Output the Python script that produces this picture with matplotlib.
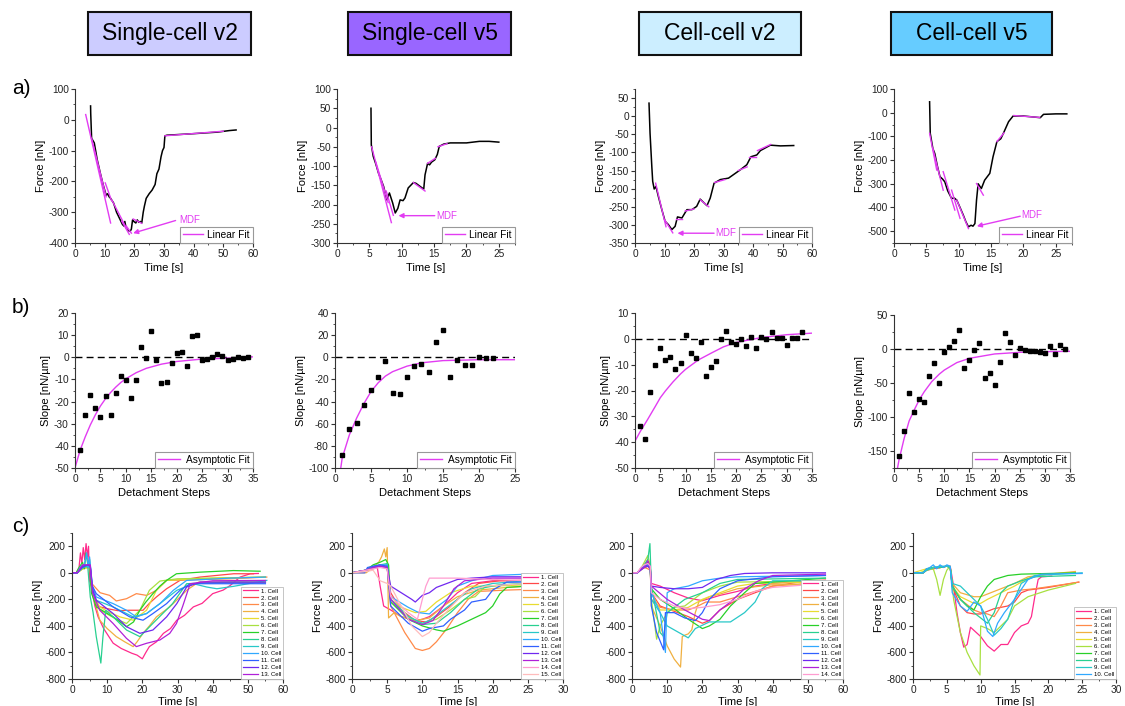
import matplotlib
matplotlib.use("Agg")
import matplotlib.pyplot as plt
from matplotlib.patches import Rectangle
from matplotlib.ticker import MultipleLocator, AutoMinorLocator

plt.rcParams['font.family'] = ['Liberation Sans', 'DejaVu Sans']
plt.rcParams['axes.unicode_minus'] = False

W, H = 1125, 706
MAG = '#e23cf2'

# ---------------- headers ----------------
titles = ['Single-cell v2', 'Single-cell v5', 'Cell-cell v2', 'Cell-cell v5']
title_colors = ['#ccccff', '#9966ff', '#cceeff', '#66ccff']

# ---------------- row a: force curves with linear fits ----------------
a1_time = [5.25, 5.3, 5.6, 6.5, 7.5, 8.5, 9.5, 10.5, 11.0, 11.5, 12.0, 13.0, 14.0, 15.0, 16.0, 16.5, 16.8, 17.2, 18.0, 18.6,
           19.0, 19.4, 19.8, 20.5, 21.0, 21.5, 22.0, 22.5, 23.0, 23.4, 24.0, 25.0, 26.0, 27.0, 27.6, 28.3, 29.0, 29.5, 30.0, 30.3,
           31.0, 40.0, 48.0, 52.0, 54.3]
a1_force = [45, 20, -60, -75, -130, -172, -211, -245, -240, -250, -255, -270, -300, -320, -340, -345, -330, -350, -360, -362,
            -355, -325, -330, -335, -325, -333, -330, -335, -300, -280, -255, -240, -228, -210, -175, -160, -120, -100, -90, -52,
            -50, -45, -40, -35, -33]
a1_fits = [(3.6, 17, 12.0, -335), (5.6, -60, 10.5, -250), (10.2, -205, 12.3, -262), (12.5, -262, 17.5, -355),
           (15.8, -330, 18.3, -372), (17.3, -345, 19.0, -368), (19.6, -322, 22.5, -336), (30.3, -52, 50.0, -37)]

a2_time = [5.25, 5.3, 5.6, 6.0, 6.4, 6.8, 7.2, 7.7, 8.1, 8.6, 9.0, 9.4, 9.75, 10.2, 10.5, 11.0, 11.4, 11.8, 12.2, 12.6,
           13.0, 13.4, 13.6, 14.0, 14.3, 14.6, 15.1, 15.5, 15.8, 16.5, 17.5, 20.0, 22.0, 23.5, 25.0]
a2_force = [50, -45, -75, -95, -118, -135, -153, -188, -170, -196, -222, -210, -188, -190, -183, -157, -150, -143, -145, -150,
            -155, -160, -123, -93, -97, -90, -84, -70, -49, -43, -40, -40, -36, -36, -38]
a2_fits = [(5.35, -50, 8.4, -247), (6.0, -90, 7.9, -195), (7.6, -165, 8.7, -228), (11.8, -143, 13.6, -165),
           (14.0, -93, 15.2, -80), (15.6, -50, 17.0, -42)]

a3_time = [4.75, 5.1, 5.7, 6.0, 6.5, 7.1, 7.9, 9.1, 10.2, 11.3, 12.5, 13.6, 14.4, 15.9, 17.6, 19.3, 20.9, 22.1, 24.4, 25.5,
           26.8, 28.9, 31.7, 35.7, 37.9, 39.3, 41.3, 42.5, 45.9, 49.3, 53.8]
a3_force = [36, -47, -139, -180, -201, -194, -221, -258, -290, -299, -313, -304, -278, -281, -258, -258, -249, -229, -247, -226,
            -185, -175, -171, -148, -134, -112, -107, -95, -80, -82, -81]
a3_fits = [(7.0, -185, 10.5, -305), (10.0, -285, 12.8, -322), (14.0, -285, 16.0, -285), (17.0, -262, 20.0, -256),
           (22.0, -230, 25.0, -250), (27.0, -183, 30.5, -175), (35.0, -150, 38.0, -140), (38.5, -112, 41.0, -112),
           (41.5, -95, 46.0, -78)]

a4_time = [5.5, 5.6, 6.0, 6.3, 6.7, 7.1, 7.5, 7.85, 8.3, 8.9, 9.3, 9.7, 10.2, 10.7, 11.1, 11.5, 11.9, 12.2, 12.5, 12.75,
           13.0, 13.5, 14.0, 14.8, 15.3, 15.9, 16.5, 16.9, 17.7, 18.4, 20.0, 22.6, 23.1, 25.0, 26.7]
a4_force = [46, -87, -151, -172, -225, -270, -280, -292, -330, -362, -360, -369, -400, -432, -460, -482, -475, -479, -468, -369,
            -300, -320, -285, -256, -186, -122, -110, -87, -38, -14, -14, -21, -7, -5, -5]
a4_fits = [(5.5, -87, 6.6, -242), (6.0, -151, 7.6, -327), (7.6, -249, 9.4, -411), (8.9, -327, 10.2, -446),
           (9.7, -369, 11.5, -489), (12.75, -299, 13.8, -348), (15.9, -122, 17.0, -85), (18.5, -12, 22.5, -20)]

# MDF label: text position, arrow tail, arrow head
a_mdf = [((35.0, -325), (33.9, -327), (19.6, -368)),
         ((15.4, -229), (15.1, -229), (9.5, -229)),
         ((27.2, -323), (26.8, -323), (14.4, -323)),
         ((19.7, -432), (19.5, -437), (12.8, -479))]

# ---------------- row b: slopes per detachment step ----------------
b1_step = list(range(1, 35))
b1_slope = [-42, -25.9, -17, -23, -27, -17.6, -25.9, -16, -8.3, -10.4, -18.4, -10.1, 4.5, -0.3, 12, -1, -11.6, -11.3,
            -2.6, 1.9, 2.5, -3.8, 9.8, 10.1, -1, -0.6, 0.1, 1.5, 0.4, -1.4, -0.6, 0, -0.3, 0]
b1_fit_x = [0, 1, 2, 3, 4, 5, 6, 7, 8, 9, 10, 12, 14, 17, 20, 25, 30, 35]
b1_fit_y = [-50, -42, -36, -30.6, -26, -22, -18.7, -15.9, -13.5, -11.4, -9.7, -7, -5, -3.1, -1.9, -0.8, -0.4, 0.2]

b2_step = list(range(1, 23))
b2_slope = [-88, -64.8, -59.4, -43.4, -29.3, -18, -3, -32.3, -32.9, -18, -8.2, -6, -13.6, 13.5, 24.3, -17.8, -2.2,
            -6.7, -6.7, 0.2, -0.7, -0.7]
b2_fit_x = [0.8, 1, 2, 3, 4, 5, 6, 7, 8, 10, 12, 15, 20, 25]
b2_fit_y = [-100, -91, -70, -55, -42, -31, -23, -17, -13, -8, -5, -3, -2.2, -2.2]

b3_step = list(range(1, 34))
b3_slope = [-33.8, -38.7, -20.6, -10, -3.5, -8.2, -7.1, -11.5, -9.5, 1.4, -5.6, -7.5, -1.4, -14.4, -10.9, -8.5, 0.1,
            3, -1.2, -2.1, 0.1, -2.7, 0.8, -3.4, 0.9, -0.1, 2.7, 0.5, 0.5, -2.5, 0.5, 0.5, 2.7]
b3_fit_x = [0, 1, 2.5, 4, 5, 6, 7.5, 9, 10, 12.5, 15, 17.5, 20, 25, 30, 35]
b3_fit_y = [-39.6, -36, -31.2, -26.2, -22.8, -20.2, -16.7, -13.6, -11.8, -8.2, -5.6, -3.1, -1.4, 0.5, 1.6, 2.2]

b4_step = list(range(1, 35))
b4_slope = [-158, -120, -65, -93, -74, -78, -40, -20, -50, -4, 3.4, 11.7, 27.9, -28, -16, -1.5, 8.3, -43, -36, -53,
            -19, 23.5, 10.8, -8.8, 1.5, -1.5, -2.4, -2.4, -3.9, -5.4, 4.4, -6.8, 5.4, -0.5]
b4_fit_x = [0.7, 1, 2, 3, 4, 5, 6, 7.5, 9, 10, 12.5, 15, 20, 25, 30, 35]
b4_fit_y = [-175, -163, -132, -106, -90, -75, -63, -48, -37, -31, -20, -13.7, -7.3, -4.9, -3.9, -3.4]

# ---------------- row c: all force curves ----------------
cell_colors = ['#ff2a8c', '#ff4848', '#ff8a48', '#f0b040', '#e8dc30', '#a8e040', '#28d028', '#28d090',
               '#28c8c8', '#30a8ff', '#3060ff', '#7028f0', '#b020d8', '#ff9cd0', '#ffbcbc']

c1_cells = [
    [(0, 0), (1.2, 0), (2, 40), (2.4, 150), (2.8, 70), (3.2, 190), (3.6, 100), (4.0, 220), (4.4, 120), (4.7, 200), (5.0, -60),
     (5.5, -100), (6.5, -250), (7.4, -330), (9, -420), (11.7, -530), (14, -570), (17, -606), (18.5, -620), (20, -648),
     (21, -600), (22, -556), (24, -520), (26, -456), (28, -420), (29.8, -357), (32, -320), (34.5, -257), (37, -230),
     (40, -157), (43, -130), (45, -95), (47.8, -32), (50.7, -7), (53, -5)],
    [(0, 0), (1.5, 0), (2.5, 40), (3.5, 60), (4.5, 50), (5.2, 40), (5.6, -120), (7, -250), (10, -270), (13, -285),
     (16.4, -282), (20.2, -282), (22, -230), (24, -182), (26.9, -120), (30.7, -57), (36.4, -32), (46, -7), (51.6, -7)],
    [(0, 0), (1.5, 0), (3, 30), (4.5, 40), (5.2, 30), (5.6, -80), (8, -150), (10.7, -170), (12.6, -212), (15.5, -195),
     (18.3, -157), (21.2, -170), (24, -132), (26.9, -57), (35, -52), (45, -45), (55.4, -32)],
    [(0, 0), (1.5, 0), (3, 40), (4.5, 50), (5.2, 40), (5.8, -150), (7.9, -357), (10, -420), (12.6, -481), (15, -520),
     (17.4, -556), (18.5, -520), (20.2, -456), (22, -400), (24, -332), (27.8, -257), (30, -200), (32.6, -132),
     (36, -70), (45, -70), (55, -70)],
    [(0, 0), (1.5, 0), (3, 30), (4.5, 40), (5.2, 30), (5.8, -150), (7.9, -257), (10, -290), (13.6, -332), (17.4, -357),
     (21.2, -282), (24, -132), (26.9, -57), (40, -40), (55, -32)],
    [(0, 0), (1.5, 0), (3, 30), (4.5, 50), (5.2, 40), (5.8, -150), (7.9, -280), (12, -340), (15.5, -382), (19.3, -282),
     (22, -132), (25, -62), (30, -45), (55, -32)],
    [(0, 0), (1.2, 0), (2, 40), (3, 80), (3.5, 30), (4, 150), (4.5, 60), (5, 100), (5.5, -150), (6.9, -257), (9, -290),
     (11.7, -332), (15.5, -406), (17.5, -370), (19.3, -282), (21, -220), (23, -157), (25, -100), (26.9, -57),
     (29.7, -7), (36.4, 5), (45.9, 17), (53.5, 12)],
    [(0, 0), (1.5, 0), (2.5, 40), (3.5, 60), (4.5, 40), (5.2, -182), (6, -300), (6.9, -481), (8.2, -680), (8.8, -481),
     (9.6, -282), (11.7, -332), (15.5, -431), (19.3, -481), (23, -381), (28.6, -232), (32.6, -82), (45, -70), (55, -70)],
    [(0, 0), (1.5, 0), (3, 40), (4.5, 50), (5.2, 40), (5.8, -120), (6.9, -207), (11.7, -257), (17.4, -332), (21.2, -307),
     (25, -232), (29.8, -132), (34.5, -82), (38.3, -107), (41.2, -120), (45.9, -102), (55.4, -57)],
    [(0, 0), (1.5, 0), (2.5, 50), (3.5, 60), (4.2, 150), (4.6, 40), (5.0, 120), (5.8, -100), (6.9, -182), (11.7, -232),
     (15.5, -282), (18.3, -332), (21.2, -307), (25, -232), (28.8, -132), (32.6, -57), (45, -40), (55, -32)],
    [(0, 0), (1.5, 0), (3, 40), (4.5, 60), (5.2, 50), (5.8, -100), (6.9, -157), (11.7, -257), (16.4, -332),
     (20.2, -357), (23, -307), (26.9, -232), (30.7, -132), (33.6, -82), (45, -82), (55, -82)],
    [(0, 0), (1.5, 0), (3, 50), (4.5, 60), (5.2, 50), (5.8, -120), (6.9, -207), (11.7, -307), (15.5, -406),
     (19.3, -456), (23, -431), (26.9, -332), (29.8, -232), (32.6, -107), (36.4, -70), (55, -70)],
    [(0, 0), (1.5, 0), (3, 60), (4.5, 60), (5.2, 60), (5.8, -150), (7.9, -282), (11.7, -382), (15.5, -494),
     (18.3, -556), (21.2, -531), (25, -506), (27.8, -456), (29.7, -382), (31.5, -250), (33.6, -82), (40, -60), (55, -57)],
]

c2_cells = [
    [(0, 0), (2, 10), (3, 30), (3.6, 40), (4.0, -100), (4.5, -250), (5.5, -280), (7, -330), (9, -360), (10, -350),
     (11, -330), (13, -250), (15, -150), (17, -80), (20, -60), (25, -55)],
    [(0, 0), (2, 20), (3, 40), (4, 60), (5, 50), (5.5, -150), (7, -280), (9, -360), (10.5, -370), (12, -330),
     (14, -250), (16, -150), (18, -80), (21, -60), (25, -60)],
    [(0, 0), (2, 20), (3, 40), (4, 50), (5, 40), (5.5, -250), (6.5, -350), (7.5, -450), (9, -570), (10, -585),
     (11, -570), (12, -520), (13.5, -420), (15, -300), (16.5, -200), (18, -140), (22, -130), (25, -125)],
    [(0, 0), (2, 0), (3, 40), (3.8, 80), (4.2, 120), (4.6, 180), (4.8, 120), (5.0, 190), (5.2, -340), (6, -300),
     (7, -330), (9, -360), (11, -340), (13, -250), (15, -180), (18, -130), (22, -110), (25, -100)],
    [(0, 0), (2, 20), (3, 40), (4, 50), (5, 60), (5.5, -200), (7, -260), (9, -300), (10.5, -290), (12, -220),
     (14, -150), (17, -100), (20, -100), (25, -90)],
    [(0, 0), (2, 20), (3, 40), (4, 60), (5, 50), (5.5, -200), (8, -330), (10, -380), (12, -350), (14, -280),
     (16, -200), (17.5, -180), (19, -100), (22, -90), (25, -80)],
    [(0, 0), (2, 20), (3, 60), (4, 80), (4.8, 100), (5.2, 60), (5.5, -220), (8, -350), (10, -400), (12, -430),
     (13, -440), (15, -400), (17, -350), (19, -300), (20, -250), (21, -160), (22, -110), (25, -100)],
    [(0, 0), (2, 20), (3, 50), (4, 60), (5, 70), (5.5, -200), (8, -350), (10, -390), (12, -380), (14, -300),
     (16, -200), (18, -120), (21, -90), (25, -80)],
    [(0, 0), (2, 20), (3, 40), (4, 50), (5, 40), (5.5, -200), (8, -330), (10, -380), (11, -360), (13, -280),
     (15, -200), (17, -120), (20, -80), (25, -60)],
    [(0, 0), (2, 20), (3, 40), (4, 60), (5, 60), (5.5, -180), (8, -260), (9.5, -300), (11, -310), (12, -260),
     (13.5, -200), (15, -100), (17, -60), (20, -20), (25, -10)],
    [(0, 0), (1.8, 0), (2.2, 40), (3, 50), (4, 60), (5, 50), (5.5, -250), (8, -380), (10, -440), (11, -420),
     (13, -400), (14, -350), (16, -280), (17, -220), (19, -200), (20, -130), (22, -70), (25, -70)],
    [(0, 0), (2, 20), (3, 40), (4, 50), (5, 40), (5.5, -100), (7, -150), (8.5, -200), (9, -220), (10, -170),
     (11, -150), (12, -110), (13.5, -80), (15, -50), (17, -40), (20, -30), (25, -30)],
    [(0, 0), (2, 20), (3, 40), (4, 50), (5, 40), (5.5, -200), (8, -350), (10, -390), (11.5, -360), (13, -250),
     (14.5, -120), (16, -60), (20, -40), (25, -40)],
    [(0, 0), (2, 20), (3, 30), (4, 40), (5, 30), (5.5, -180), (8, -300), (9.3, -350), (10, -200), (10.5, -100),
     (11, -40), (15, -40), (20, -50), (25, -60)],
    [(0, 0), (2, 10), (3, 20), (4, -60), (5, -80), (5.5, -100), (7, -250), (8.5, -400), (10, -480), (11, -450),
     (12, -380), (14, -260), (16, -150), (19, -100), (25, -80)],
]

c3_cells = [
    [(0, 0), (1.5, 0), (2.5, 30), (3.5, 60), (4.5, 100), (5.2, 40), (5.5, -80), (8, -100), (12, -150), (16, -190),
     (20, -210), (25, -170), (30, -140), (35, -100), (40, -80), (50, -60), (55, -60)],
    [(0, 0), (1.5, 0), (2.5, 30), (3.5, 40), (4.5, 50), (5.2, 30), (5.5, -150), (8, -250), (12, -290), (16, -330),
     (20, -380), (22, -360), (25, -280), (30, -200), (35, -150), (40, -100), (50, -60), (55, -55)],
    [(0, 0), (1.5, 0), (2.5, 20), (3.5, 40), (4.5, 30), (5.2, 20), (5.5, -200), (8, -260), (12, -280), (16, -280),
     (18, -260), (21, -220), (25, -220), (30, -180), (35, -140), (40, -100), (50, -80), (55, -80)],
    [(0, 0), (1.5, 0), (2.5, 30), (3.5, 40), (4.5, 50), (5.2, 30), (5.5, -250), (8, -400), (10, -550), (12, -650),
     (13.8, -710), (14.3, -480), (15, -470), (16, -460), (17, -430), (18, -300), (19, -220), (22, -180), (25, -160),
     (30, -120), (40, -90), (55, -90)],
    [(0, 0), (1.5, 0), (2.5, 30), (3.5, 40), (4.5, 60), (5.2, 40), (5.5, -150), (8, -280), (12, -280), (16, -260),
     (20, -200), (25, -150), (30, -100), (35, -80), (55, -70)],
    [(0, 0), (1.5, 0), (2.5, 30), (3.5, 80), (4.5, 130), (5.2, 50), (5.5, -200), (7, -500), (8, -400), (10, -300),
     (12, -260), (15, -250), (18, -190), (20, -150), (25, -100), (30, -70), (55, -60)],
    [(0, 0), (1.5, 0), (2.5, 30), (3.5, 50), (4.5, 80), (5.2, 40), (5.5, -120), (8, -200), (12, -270), (16, -350),
     (20, -420), (22, -400), (25, -350), (28, -250), (32, -150), (35, -80), (55, -40)],
    [(0, 0), (1.5, 0), (2.5, 30), (3.5, 60), (4.5, 100), (5.1, 220), (5.5, -100), (8, -450), (9, -480), (10, -300),
     (12, -260), (15, -200), (20, -150), (25, -80), (30, -50), (55, -40)],
    [(0, 0), (1.5, 0), (2.5, 30), (3.5, 50), (4.5, 70), (5.2, 40), (5.5, -200), (8, -300), (10, -400), (14, -460),
     (16, -490), (18, -420), (22, -370), (28, -370), (32, -300), (35, -220), (37, -120), (40, -60), (55, -60)],
    [(0, 0), (1.5, 0), (2.5, 30), (3.5, 50), (4.5, 60), (5.2, 40), (5.5, -150), (8, -300), (9.5, -600), (10, -150),
     (12, -120), (16, -100), (20, -60), (25, -40), (30, -30), (55, -20)],
    [(0, 0), (1.5, 0), (2.5, 30), (3.5, 50), (4.5, 60), (5.2, 50), (5.5, -250), (7, -450), (9, -580), (9.5, -300),
     (12, -300), (15, -340), (18, -360), (20, -300), (22, -200), (25, -120), (30, -60), (40, -30), (55, -20)],
    [(0, 0), (1.5, 0), (2.5, 20), (3.5, 40), (4.5, 50), (5.2, 30), (5.5, -100), (8, -110), (12, -120), (16, -120),
     (20, -110), (24, -50), (28, -20), (32, -5), (40, 0), (55, 0)],
    [(0, 0), (1.5, 0), (2.5, 30), (3.5, 40), (4.5, 90), (5.2, 40), (5.5, -100), (10, -200), (15, -280), (20, -350),
     (22, -360), (25, -280), (28, -220), (32, -120), (36, -60), (40, -20), (55, -10)],
    [(0, 0), (1.5, 0), (2.5, 40), (3.5, 60), (4.5, 70), (5.2, 50), (5.5, -150), (8, -200), (12, -250), (16, -270),
     (20, -260), (25, -240), (30, -200), (35, -140), (40, -110), (55, -80)],
]

c4_cells = [
    [(0, 0), (1.5, 0), (2, 20), (3, 30), (4, 40), (5, 50), (5.5, 50), (6, -100), (6.5, -300), (7, -450), (7.5, -560),
     (8, -540), (8.5, -410), (10, -480), (11, -550), (12, -590), (13, -540), (14, -540), (15, -450), (16, -400),
     (17, -380), (17.5, -330), (18, -180), (18.5, -50), (19, -30), (20.5, -25)],
    [(0, 0), (1.5, 0), (2, 20), (3, 40), (4, 40), (5, 50), (5.5, 40), (5.8, -100), (7, -250), (8, -300), (9, -310),
     (10, -310), (11, -290), (12, -270), (13, -260), (14, -250), (15, -220), (16, -150), (17, -130), (20, -110),
     (24.5, -70)],
    [(0, 0), (1.5, 0), (2, 20), (3, 40), (4, 40), (5, 50), (5.5, 40), (5.8, -100), (7, -200), (9, -280), (10, -300),
     (11, -310), (12, -330), (13, -250), (14, -150), (16, -130), (18, -120), (22, -90), (24.5, -70)],
    [(0, 0), (1.5, 0), (2, 20), (3, 40), (4, 40), (5, 50), (5.5, 40), (5.8, -80), (7, -150), (9, -180), (10, -180),
     (11, -160), (13, -120), (15, -80), (17, -30), (20, -10), (24, 10)],
    [(0, 0), (1.3, 20), (2, 30), (3, 40), (4, 40), (5, 50), (5.5, 40), (5.8, -100), (7, -180), (9, -230), (10, -230),
     (11, -200), (13, -150), (15, -100), (17, -40), (20, -10), (24, 0)],
    [(0, 0), (1, 0), (2, 20), (3, 30), (3.5, -50), (4, -170), (4.5, -50), (5, 20), (5.5, 50), (6, -200), (7, -450),
     (8, -600), (9, -700), (9.9, -770), (10, -400), (11, -420), (12, -450), (13, -400), (14, -350), (15, -250),
     (17, -180), (20, -130), (24, -80)],
    [(0, 0), (1.5, 0), (2, 30), (3, 40), (4, 40), (5, 50), (5.5, 40), (5.8, -100), (7, -200), (8, -250), (9, -280),
     (10, -180), (11, -100), (12, -50), (14, -20), (16, -10), (20, -5), (24, 0)],
    [(0, 0), (1.5, 0), (2, 20), (3, 40), (4, 40), (5, 50), (5.5, 40), (5.8, -100), (7, -200), (9, -300), (11, -380),
     (12, -300), (13, -150), (14, -100), (16, -60), (18, -30), (24, -20)],
    [(0, 0), (1.5, 0), (2, 20), (3, 40), (4, 50), (5, 50), (5.5, 40), (5.8, -80), (7, -100), (8, -150), (9, -200),
     (10, -250), (11, -350), (12, -470), (13, -420), (14, -350), (15, -200), (16, -80), (18, -20), (25, 0)],
    [(0, 0), (1.5, 0), (2, 30), (2.5, 40), (3, 60), (3.5, 30), (4, 60), (4.5, 40), (5, 60), (5.5, 50), (5.8, -150),
     (7, -250), (8, -290), (9, -220), (10, -250), (11, -440), (11.8, -480), (12.5, -380), (13.5, -300), (15, -200),
     (17, -50), (19, -10), (25, -5)],
]

# ---------------- layout (pixel boxes: left, top, right, bottom) ----------------
fig = plt.figure(figsize=(W / 100, H / 100), dpi=100)


def add_ax(l, t, r, b):
    return fig.add_axes([l / W, 1 - b / H, (r - l) / W, (b - t) / H])


def style(ax, xlim, ylim, xstep, ystep):
    ax.set_xlim(*xlim)
    ax.set_ylim(*ylim)
    ax.xaxis.set_major_locator(MultipleLocator(xstep))
    ax.yaxis.set_major_locator(MultipleLocator(ystep))
    ax.xaxis.set_minor_locator(AutoMinorLocator(2))
    ax.yaxis.set_minor_locator(AutoMinorLocator(2))
    for s in ['top', 'right']:
        ax.spines[s].set_visible(False)
    for s in ['left', 'bottom']:
        ax.spines[s].set_linewidth(0.8)
        ax.spines[s].set_color('#333333')
    ax.tick_params(which='major', direction='out', length=3, width=0.8, labelsize=7.3, pad=1.5, colors='#333333',
                   labelcolor='#222222')
    ax.tick_params(which='minor', direction='out', length=1.6, width=0.6, colors='#333333')


# headers
hx = [(88, 251), (348, 511), (639, 801), (891, 1052)]
for (x0, x1), txt, col in zip(hx, titles, title_colors):
    fig.add_artist(Rectangle((x0 / W, 1 - 55 / H), (x1 - x0) / W, 43 / H, transform=fig.transFigure,
                             facecolor=col, edgecolor='#111111', lw=1.5))
    fig.text((x0 + x1) / 2 / W, 1 - 33.5 / H, txt, ha='center', va='center', fontsize=16.5)

for lab, y in [('a)', 88), ('b)', 307), ('c)', 527)]:
    fig.text(12 / W, 1 - y / H, lab, fontsize=15, va='center', ha='left')

# row a
a_boxes = [(75, 89, 253, 243), (337, 89, 515, 243), (635, 89, 812, 243), (894, 89, 1072, 243)]
a_data = [(a1_time, a1_force, a1_fits), (a2_time, a2_force, a2_fits),
          (a3_time, a3_force, a3_fits), (a4_time, a4_force, a4_fits)]
a_lims = [((0, 60), (-400, 100), 10, 100), ((0, 27.5), (-300, 100), 5, 50),
          ((0, 60), (-350, 75), 10, 50), ((0, 27.5), (-550, 100), 5, 100)]
for box, (t, f, fits), (xl, yl, xs, ys), (tp, tail, head) in zip(a_boxes, a_data, a_lims, a_mdf):
    ax = add_ax(*box)
    style(ax, xl, yl, xs, ys)
    ax.plot(t, f, color='black', lw=1.1, zorder=2)
    for i, (x0, y0, x1, y1) in enumerate(fits):
        ax.plot([x0, x1], [y0, y1], color=MAG, lw=1.0, zorder=3, label='Linear Fit' if i == 0 else None)
    ax.annotate('', xy=head, xytext=tail,
                arrowprops=dict(arrowstyle='-|>', color=MAG, lw=1.0, mutation_scale=7, shrinkA=0, shrinkB=0))
    ax.text(tp[0], tp[1], 'MDF', color=MAG, fontsize=7, va='center', ha='left')
    leg = ax.legend(loc='lower right', fontsize=7.3, handlelength=2.0, borderaxespad=0, borderpad=0.3,
                    fancybox=False, edgecolor='#999999', framealpha=1, handletextpad=0.4)
    leg.get_frame().set_linewidth(0.8)
    ax.set_ylabel('Force [nN]', fontsize=8, labelpad=2)
    ax.set_xlabel('Time [s]', fontsize=8, labelpad=3)

# row b
b_boxes = [(75, 313, 253, 468), (335, 313, 515, 468), (635, 313, 812, 468), (894, 315, 1070, 468)]
b_data = [(b1_step, b1_slope, b1_fit_x, b1_fit_y), (b2_step, b2_slope, b2_fit_x, b2_fit_y),
          (b3_step, b3_slope, b3_fit_x, b3_fit_y), (b4_step, b4_slope, b4_fit_x, b4_fit_y)]
b_lims = [((0, 35), (-50, 20), 5, 10), ((0, 25), (-100, 40), 5, 20),
          ((0, 35), (-50, 10), 5, 10), ((0, 35), (-175, 50), 5, 50)]
for box, (sx, sy, fx, fy), (xl, yl, xs, ys) in zip(b_boxes, b_data, b_lims):
    ax = add_ax(*box)
    style(ax, xl, yl, xs, ys)
    ax.axhline(0, color='black', lw=1.0, dashes=(5, 3), zorder=1)
    ax.plot(fx, fy, color=MAG, lw=1.0, zorder=2, label='Asymptotic Fit')
    ax.plot(sx, sy, 's', color='black', ms=3.4, zorder=3)
    leg = ax.legend(loc='lower right', fontsize=7.3, handlelength=2.2, borderaxespad=0, borderpad=0.3,
                    fancybox=False, edgecolor='#999999', framealpha=1, handletextpad=0.6)
    leg.get_frame().set_linewidth(0.8)
    ax.set_ylabel('Slope [nN/\u00b5m]', fontsize=8, labelpad=2)
    ax.set_xlabel('Detachment Steps', fontsize=8, labelpad=3)

# row c
c_boxes = [(72, 533, 283, 679), (352, 533, 563, 679), (632, 533, 843, 679), (913, 533, 1116, 679)]
c_data = [c1_cells, c2_cells, c3_cells, c4_cells]
c_lims = [((0, 60), 10), ((0, 30), 5), ((0, 60), 10), ((0, 30), 5)]
for box, cells, (xl, xs) in zip(c_boxes, c_data, c_lims):
    ax = add_ax(*box)
    style(ax, xl, (-800, 300), xs, 200)
    for i, cell in enumerate(cells):
        tt = [p[0] for p in cell]
        ff = [p[1] for p in cell]
        ax.plot(tt, ff, color=cell_colors[i], lw=0.9, label='%d. Cell' % (i + 1))
    leg = ax.legend(loc='lower right', fontsize=4.3, handlelength=2.6, borderaxespad=0, borderpad=0.3,
                    labelspacing=0.3, fancybox=False, edgecolor='#bbbbbb', framealpha=1, handletextpad=0.4)
    leg.get_frame().set_linewidth(0.6)
    ax.set_ylabel('Force [nN]', fontsize=8, labelpad=2)
    ax.set_xlabel('Time [s]', fontsize=8, labelpad=1)

fig.savefig('out.png', dpi=100, facecolor='white')
